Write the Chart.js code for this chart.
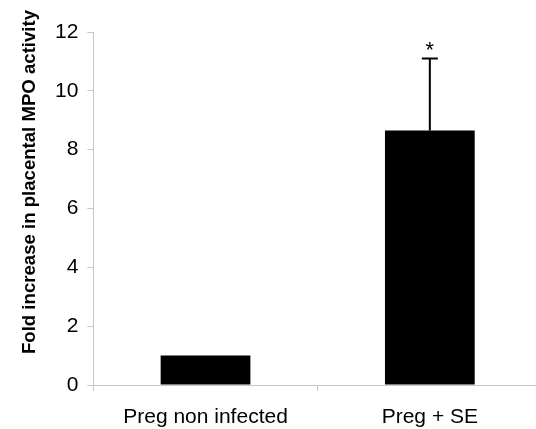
<!DOCTYPE html>
<html><head><meta charset="utf-8">
<script src="https://cdn.jsdelivr.net/npm/chart.js@4/dist/chart.umd.min.js"></script>
<style>html,body{margin:0;padding:0;background:#fff;overflow:hidden}#wrap{width:536px;height:429px;overflow:hidden}</style>
</head><body><div id="wrap"><canvas id="c" width="542" height="429"></canvas></div>
<script>
const categories = ["Preg non infected", "Preg + SE"];
const foldValues = [1.0, 8.65];
const errorUpper = [0, 2.45];
const significance = ["", "*"];
const yTicks = [0, 2, 4, 6, 8, 10, 12];
const yTitle = "Fold increase in placental MPO activity";

const errPlugin = {
  id: 'err',
  afterDatasetsDraw(chart) {
    const ctx = chart.ctx, xs = chart.scales.x, ys = chart.scales.y;
    ctx.save();
    ctx.strokeStyle = '#000'; ctx.lineWidth = 2;
    foldValues.forEach((v, i) => {
      const x = xs.getPixelForValue(i);
      if (errorUpper[i] > 0) {
        const y0 = ys.getPixelForValue(v), y1 = ys.getPixelForValue(v + errorUpper[i]);
        ctx.beginPath(); ctx.moveTo(x, y0); ctx.lineTo(x, y1);
        ctx.moveTo(x - 8, y1); ctx.lineTo(x + 8, y1); ctx.stroke();
      }
      if (significance[i]) {
        ctx.fillStyle = '#000'; ctx.font = '22px "Liberation Sans", Arial';
        ctx.textAlign = 'center'; ctx.textBaseline = 'middle';
        ctx.fillText(significance[i], x, ys.getPixelForValue(v + errorUpper[i]) - 8);
      }
    });
    // y axis title
    ctx.fillStyle = '#000'; ctx.font = 'bold 18.6px "Liberation Sans", Arial';
    ctx.textAlign = 'center'; ctx.textBaseline = 'middle';
    ctx.translate(30, 182); ctx.rotate(-Math.PI / 2);
    ctx.fillText(yTitle, 0, 0);
    ctx.restore();
  }
};

new Chart(document.getElementById('c'), {
  type: 'bar',
  data: { labels: categories, datasets: [{ data: foldValues, backgroundColor: '#000', borderWidth: 0, barPercentage: 0.4, categoryPercentage: 1.0 }] },
  options: {
    responsive: false, animation: false,
    layout: { padding: { top: 32, right: 0, bottom: 0, left: 46 } },
    plugins: { legend: { display: false }, tooltip: { enabled: false } },
    scales: {
      x: {
        afterFit(s) { s.height = 44; },
        grid: { display: true, drawOnChartArea: false, tickLength: 6, color: '#c8c8c8', offset: true },
        border: { color: '#c8c8c8' },
        ticks: { color: '#000', font: { family: '"Liberation Sans", Arial', size: 21 }, padding: 14 }
      },
      y: {
        min: 0, max: 12,
        afterBuildTicks(s) { s.ticks = yTicks.map(v => ({ value: v })); },
        grid: { display: true, drawOnChartArea: false, tickLength: 6, color: '#c8c8c8' },
        border: { color: '#c8c8c8' },
        ticks: { color: '#000', font: { family: '"Liberation Sans", Arial', size: 21 }, padding: 9 }
      }
    }
  },
  plugins: [errPlugin]
});
</script></body></html>
